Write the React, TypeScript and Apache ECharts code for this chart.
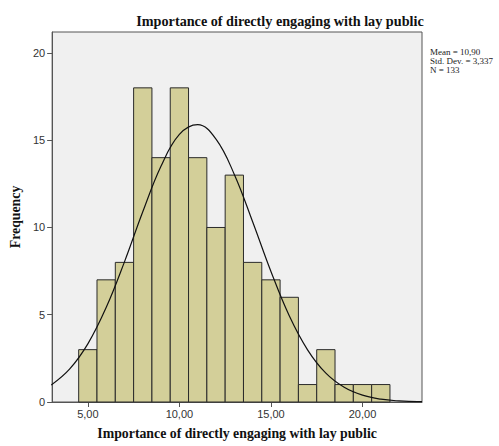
import React, { useEffect, useRef } from "react";
import * as echarts from "echarts";

const binCenters = [5, 6, 7, 8, 9, 10, 11, 12, 13, 14, 15, 16, 17, 18, 19, 20, 21];
const frequencies = [3, 7, 8, 18, 14, 18, 14, 10, 13, 8, 7, 6, 1, 3, 1, 1, 1];
const curveX = [3, 4, 5, 6, 7, 8, 9, 10, 11, 12, 13, 14, 15, 16, 17, 18, 19, 20, 21, 22, 23, 23.25];
const curveY = [0.97, 1.88, 3.33, 5.41, 8.03, 10.9, 13.52, 15.33, 15.89, 15.06, 13.04, 10.33, 7.48, 4.94, 2.99, 1.65, 0.84, 0.39, 0.16, 0.06, 0.02, 0.02];
const xTicks = [5, 10, 15, 20];
const yTicks = [0, 5, 10, 15, 20];
const statsLines = ["Mean = 10,90", "Std. Dev. = 3,337", "N = 133"];
const titleText = "Importance of directly engaging with lay public";
const xName = "Importance of directly engaging with lay public";
const yName = "Frequency";

export default function App() {
  const ref = useRef<HTMLDivElement>(null);
  useEffect(() => {
    document.body.style.margin = "0";
    const chart = echarts.init(ref.current!, null, { renderer: "svg" });
    const barData = binCenters.map((c, i) => [c, frequencies[i]]);
    chart.setOption({
      animation: false,
      title: {
        text: titleText,
        left: 275,
        top: 9,
        textAlign: "center",
        textStyle: { fontFamily: "Liberation Serif", fontWeight: "bold", fontSize: 14.2, color: "#111" },
      },
      grid: {
        left: 49,
        top: 32,
        right: 77,
        bottom: 44,
        show: true,
        backgroundColor: "#f0f0f0",
        borderColor: "#555",
        borderWidth: 1,
      },
      xAxis: {
        type: "value",
        min: 3.05,
        max: 23.25,
        name: xName,
        nameLocation: "middle",
        nameGap: 24,
        nameTextStyle: { fontFamily: "Liberation Serif", fontWeight: "bold", fontSize: 13.8, color: "#111" },
        splitLine: { show: false },
        axisLine: { show: true, lineStyle: { color: "#555" } },
        axisTick: { show: true, length: 5, customValues: xTicks, lineStyle: { color: "#555" } },
        axisLabel: {
          customValues: xTicks,
          fontFamily: "Liberation Sans",
          fontSize: 11,
          color: "#333",
          margin: 6,
          formatter: (v: number) => v.toFixed(2).replace(".", ","),
        },
      },
      yAxis: {
        type: "value",
        min: 0,
        max: 21.2,
        name: yName,
        nameLocation: "middle",
        nameGap: 27,
        nameTextStyle: { fontFamily: "Liberation Serif", fontWeight: "bold", fontSize: 13.8, color: "#111" },
        splitLine: { show: false },
        axisLine: { show: true, lineStyle: { color: "#555" } },
        axisTick: { show: true, length: 5, customValues: yTicks, lineStyle: { color: "#555" } },
        axisLabel: {
          customValues: yTicks,
          fontFamily: "Liberation Sans",
          fontSize: 11,
          color: "#333",
          margin: 7,
        },
      },
      series: [
        {
          type: "custom",
          data: barData,
          renderItem: (params: any, api: any) => {
            const c = api.value(0);
            const v = api.value(1);
            const p0 = api.coord([c - 0.5, 0]);
            const p1 = api.coord([c + 0.5, v]);
            return {
              type: "rect",
              shape: { x: p0[0], y: p1[1], width: p1[0] - p0[0], height: p0[1] - p1[1] },
              style: { fill: "#d3cf99", stroke: "#2a2a2a", lineWidth: 1 },
            };
          },
          z: 2,
        },
        {
          type: "line",
          data: curveX.map((x, i) => [x, curveY[i]]),
          smooth: 0.4,
          showSymbol: false,
          lineStyle: { color: "#111", width: 1.2 },
          z: 3,
        },
      ],
      graphic: statsLines.map((t, i) => ({
        type: "text",
        left: 430,
        top: 47 + i * 9,
        style: { text: t, font: "9px 'Liberation Serif'", fill: "#222" },
      })),
    });
    return () => chart.dispose();
  }, []);
  return <div ref={ref} style={{ width: 499, height: 446 }} />;
}
